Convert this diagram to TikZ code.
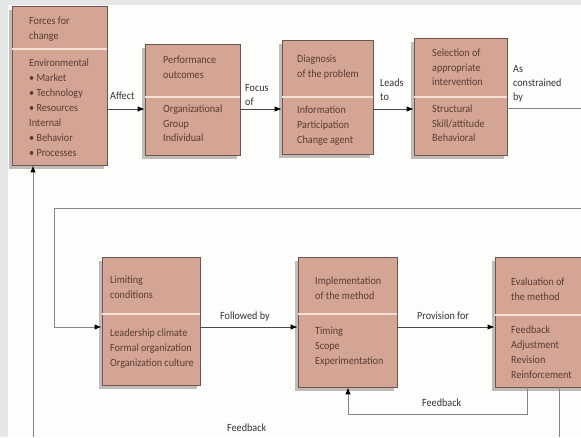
\documentclass[tikz,border=0pt]{standalone}
\usepackage{fontspec}
\setmainfont{Carlito}[FakeStretch=0.92]
\usetikzlibrary{arrows.meta,calc,fit}
\definecolor{boxfill}{HTML}{D4A595}
\definecolor{boxline}{HTML}{6B5650}
\definecolor{divc}{HTML}{F5E1D8}
\definecolor{txtc}{HTML}{5A3B33}
\definecolor{shadowc}{HTML}{C2BCB9}
\definecolor{darkline}{HTML}{4A4A4A}
\definecolor{loopline}{HTML}{858585}
\definecolor{pagebg}{HTML}{FDFDFB}
\definecolor{margin}{HTML}{E6E6E6}
\newcommand{\tbox}[6]{%
  \fill[shadowc] (#2-3,#3+4) rectangle (#4-3,#5+4);
  \node[boxst, fit={(#2,#3) (#4,#5)}] (#1) {};
  \draw[divst] ($(#1.west |- 0,#6)+(0.6,0)$) -- ($(#1.east |- 0,#6)+(-0.6,0)$);
}
\begin{document}
\begin{tikzpicture}[x=1pt,y=-1pt,
  boxst/.style={draw=boxline, fill=boxfill, line width=0.8pt, inner sep=0pt},
  divst/.style={draw=divc, line width=1.6pt},
  ttl/.style={anchor=north west, inner sep=0pt, align=left, text=txtc,
    font=\fontsize{11}{14.5}\selectfont},
  bdy/.style={anchor=north west, inner sep=0pt, align=left, text=txtc,
    font=\fontsize{11}{15}\selectfont},
  lbl/.style={anchor=north west, inner sep=0pt, align=left, text=black!80,
    font=\fontsize{11}{14}\selectfont},
  arr/.style={draw=darkline, line width=0.9pt, -{Latex[length=7pt,width=5.5pt,color=black]}},
  larr/.style={draw=loopline, line width=1pt, -{Latex[length=7pt,width=5.5pt,color=black]}},
  lline/.style={draw=loopline, line width=1pt},
]
\useasboundingbox (0,0) rectangle (581,437);
\fill[pagebg] (0,0) rectangle (581,437);
\fill[margin] (0,0) rectangle (8,437);
\fill[margin] (0,0) rectangle (581,5);

% boxes
\tbox{forces}{12}{6}{107}{165}{49}
\tbox{perf}{145}{44}{240}{155}{97}
\tbox{diag}{282}{40}{373}{154}{97}
\tbox{sel}{414}{38}{507}{155}{97}
\tbox{lim}{102}{257}{200}{385}{314}
\tbox{impl}{298}{257}{397}{387}{314}
\tbox{eval}{495}{257}{592}{387}{315}

% box texts
\node[ttl] (forcesT) at (29,25-10.5) {\strut Forces for\\change};
\node[bdy] (forcesB) at (29,66-10.5) {\strut Environmental\\\textbullet\ Market\\\textbullet\ Technology\\\textbullet\ Resources\\Internal\\\textbullet\ Behavior\\\textbullet\ Processes};
\node[ttl] (perfT) at (163,64-10.5) {\strut Performance\\outcomes};
\node[ttl] (perfB) at (163,113-10.5) {\strut Organizational\\Group\\Individual};
\node[ttl] (diagT) at (297,63-10.5) {\strut Diagnosis\\of the problem};
\node[bdy] (diagB) at (297,113-10.5) {\strut Information\\Participation\\Change agent};
\node[ttl] (selT) at (432,57-10.5) {\strut Selection of\\appropriate\\intervention};
\node[ttl] (selB) at (432,113-10.5) {\strut Structural\\Skill/attitude\\Behavioral};
\node[ttl] (limT) at (110,284-10.5) {\strut Limiting\\conditions};
\node[bdy] (limB) at (110,336-10.5) {\strut Leadership climate\\Formal organization\\Organization culture};
\node[ttl] (implT) at (315,285-10.5) {\strut Implementation\\of the method};
\node[bdy] (implB) at (315,334-10.5) {\strut Timing\\Scope\\Experimentation};
\node[ttl] (evalT) at (511,286-10.5) {\strut Evaluation of\\the method};
\node[bdy] (evalB) at (511,333-10.5) {\strut Feedback\\Adjustment\\Revision\\Reinforcement};

% connector labels
\node[lbl] (lAffect) at (110,100-10.5) {\strut Affect};
\node[lbl] (lFocus) at (245,92-10.5) {\strut Focus\\of};
\node[lbl] (lLeads) at (380,87-10.5) {\strut Leads\\to};
\node[lbl] (lAs) at (513,73-10.5) {\strut As\\constrained\\by};
\node[lbl] (lFollow) at (220,320-10.5) {\strut Followed by};
\node[lbl] (lProv) at (417,320-10.5) {\strut Provision for};
\node[lbl] (lFb1) at (422,407-10.5) {\strut Feedback};
\node[lbl] (lFb2) at (227,432-10.5) {\strut Feedback};

% connectors
\draw[arr] (forces.east |- 0,109) -- (perf.west |- 0,109);
\draw[arr] (perf.east |- 0,109) -- (diag.west |- 0,109);
\draw[arr] (diag.east |- 0,109) -- (sel.west |- 0,109);
\coordinate (r1) at (581,108);
\draw[lline] (sel.east |- r1) -- (r1);
\coordinate (r2) at (581,208);
\coordinate (l2) at (54,208);
\draw[larr] (r2) -- (l2) |- (lim.west |- 0,327);
\draw[arr] (lim.east |- 0,327) -- (impl.west |- 0,327);
\draw[arr] (impl.east |- 0,327) -- (eval.west |- 0,327);
\coordinate (fb) at (527,414);
\coordinate (fbl) at (348,414);
\draw[larr] (eval.south -| fb) -- (fb) -- (fbl) -- (impl.south -| fbl);
\coordinate (ob) at (559,437);
\draw[lline] (eval.south -| ob) -- (ob);
\coordinate (ol) at (33,437);
\draw[larr] (ol) -- (forces.south -| ol);
\end{tikzpicture}
\end{document}
